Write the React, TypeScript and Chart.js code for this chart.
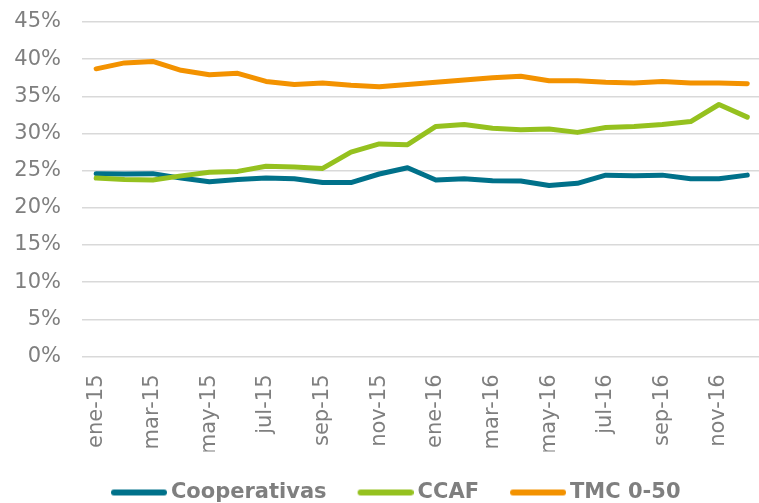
import React, { useEffect, useRef } from 'react';
import { Chart, registerables } from 'chart.js';

Chart.register(...registerables);

const months = [
  'ene-15', 'feb-15', 'mar-15', 'abr-15', 'may-15', 'jun-15', 'jul-15', 'ago-15', 'sep-15', 'oct-15', 'nov-15', 'dic-15',
  'ene-16', 'feb-16', 'mar-16', 'abr-16', 'may-16', 'jun-16', 'jul-16', 'ago-16', 'sep-16', 'oct-16', 'nov-16', 'dic-16',
];
const cooperativas = [24.6, 24.55, 24.6, 24.0, 23.5, 23.8, 24.0, 23.9, 23.4, 23.4, 24.55, 25.4, 23.75, 23.9, 23.65, 23.6, 23.0, 23.3, 24.4, 24.3, 24.4, 23.9, 23.9, 24.4];
const ccaf = [24.0, 23.8, 23.75, 24.3, 24.8, 24.9, 25.6, 25.5, 25.3, 27.5, 28.6, 28.5, 30.95, 31.2, 30.7, 30.5, 30.6, 30.15, 30.8, 30.95, 31.2, 31.6, 33.9, 32.2];
const tmc = [38.7, 39.5, 39.7, 38.5, 37.9, 38.1, 37.0, 36.6, 36.8, 36.5, 36.3, 36.6, 36.9, 37.2, 37.5, 37.7, 37.1, 37.1, 36.9, 36.8, 37.0, 36.8, 36.8, 36.7];
const seriesNames = ['Cooperativas', 'CCAF', 'TMC 0-50'];
const seriesColors = ['#00718A', '#95C11F', '#F39200'];
const yMax = 45;
const yStep = 5;

const GRAY = '#7f7f7f';
const FONT = 'DejaVu Sans';

function makeSwatch(color: string) {
  const c = document.createElement('canvas');
  c.width = 63;
  c.height = 10;
  const g = c.getContext('2d')!;
  g.strokeStyle = color;
  g.lineWidth = 6;
  g.lineCap = 'round';
  g.beginPath();
  g.moveTo(10, 5);
  g.lineTo(60, 5);
  g.stroke();
  return c;
}

export default function App() {
  const ref = useRef<HTMLCanvasElement | null>(null);

  useEffect(() => {
    if (!ref.current) return;
    const values = [cooperativas, ccaf, tmc];
    const swatches = seriesColors.map(makeSwatch);
    const chart = new Chart(ref.current, {
      type: 'line',
      data: {
        labels: months,
        datasets: values.map((d, i) => ({
          label: seriesNames[i],
          data: d,
          borderColor: seriesColors[i],
          backgroundColor: seriesColors[i],
          borderWidth: 5,
          borderCapStyle: 'round',
          borderJoinStyle: 'round',
          pointRadius: 0,
          tension: 0,
          order: i === 0 ? 2 : i === 1 ? 1 : 3,
        })) as any,
      },
      options: {
        responsive: false,
        animation: false,
        devicePixelRatio: 1,
        layout: { padding: { top: 22, left: 0, right: 0, bottom: 0 } },
        plugins: {
          tooltip: { enabled: false },
          legend: {
            position: 'bottom',
            labels: {
              usePointStyle: true,
              boxWidth: 50,
              pointStyleWidth: 50,
              padding: 30.5,
              color: GRAY,
              font: { family: FONT, size: 21, weight: 'bold' },
              generateLabels: () =>
                seriesNames.map((n, i) => ({
                  text: n,
                  fillStyle: seriesColors[i],
                  strokeStyle: 'transparent',
                  lineWidth: 0,
                  pointStyle: swatches[i] as any,
                  hidden: false,
                  datasetIndex: i,
                  fontColor: GRAY,
                })) as any,
            },
          },
        },
        scales: {
          x: {
            type: 'category',
            offset: true,
            grid: { display: false, drawTicks: false },
            border: { display: false },
            ticks: {
              autoSkip: false,
              minRotation: 90,
              maxRotation: 90,
              padding: 18,
              color: GRAY,
              font: { family: FONT, size: 21 },
              callback: (_v: any, i: number) => (i % 2 === 0 ? months[i] : ''),
            },
            afterFit: (s: any) => {
              s.height = 95;
            },
          },
          y: {
            min: 0,
            max: yMax,
            grid: { color: '#d9d9d9', lineWidth: 1.5, drawTicks: true, tickLength: 21, tickColor: 'rgba(0,0,0,0)' },
            border: { display: false },
            ticks: {
              stepSize: yStep,
              padding: 0,
              color: GRAY,
              font: { family: FONT, size: 21 },
              callback: (v: any) => `${v}%`,
            },
            afterFit: (s: any) => {
              s.width = 82;
            },
          },
          y2: {
            position: 'right',
            display: true,
            grid: { display: false, drawTicks: false },
            border: { display: false },
            ticks: { display: false },
            afterFit: (s: any) => {
              s.width = 25;
            },
          },
        },
      } as any,
    });
    return () => chart.destroy();
  }, []);

  return (
    <div
      style={{
        position: 'fixed',
        left: 0,
        top: 0,
        width: 759,
        height: 503,
        overflow: 'hidden',
        background: '#fff',
      }}
    >
      <canvas ref={ref} width={791} height={513} style={{ display: 'block', width: 791, height: 513 }} />
    </div>
  );
}
